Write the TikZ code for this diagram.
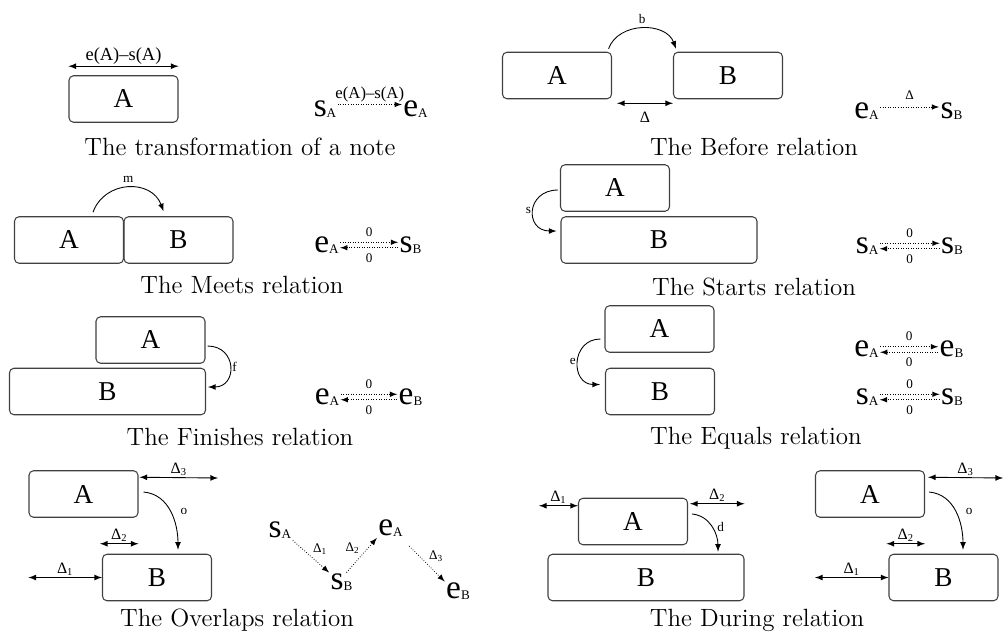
\documentclass[tikz,border=0pt]{standalone}
\usepackage{fontspec}
\usepackage{tikz}
\newfontfamily\tnr{Liberation Serif}

\newcommand{\evpoint}[2]{{\fontsize{19}{19}\selectfont #1}\raisebox{-0.7pt}{\fontsize{7.5}{8}\selectfont #2}}

\tikzset{
    ev/.style={draw=black!75, line width=0.6pt, rounded corners=0.9mm, minimum width=21.8mm,
        minimum height=9.3mm, inner sep=0pt, font=\tnr\fontsize{15.5}{16}\selectfont},
    evlong/.style={ev, minimum width=39.2mm},
    tpoint/.style={inner sep=0pt, outer sep=0.3mm, font=\tnr},
    rel/.style={-latex, line width=0.5pt},
    dur/.style={latex-latex, line width=0.5pt},
    lagarrow/.style={-latex, densely dotted, line width=0.45pt},
    lbl/.style={font=\tnr\fontsize{7.5}{8}\selectfont, inner sep=1pt},
    dlbl/.style={lbl, font=\tnr\fontsize{9}{10}\selectfont},
    relname/.style={font=\fontsize{14.2}{17}\selectfont}
}

\begin{document}
\begin{tikzpicture}[x=0.2mm, y=-0.2mm]
    \useasboundingbox (0,0) rectangle (1005,640);

    % The transformation of a note
    \node[ev] (tA) at (123.5,99) {A};
    \draw[dur] ([yshift=1.8mm]tA.north west) -- node[lbl, above, font=\tnr\fontsize{10.5}{11}\selectfont] {e(A)–s(A)} ([yshift=1.8mm]tA.north east);
    \node[tpoint] (tSa) at (325,109) {\evpoint{s}{A}};
    \node[tpoint] (tEa) at (415.5,109) {\evpoint{e}{A}};
    \draw[lagarrow] ([yshift=0.9mm]tSa.east) -- node[lbl, above, font=\tnr\fontsize{9.5}{10}\selectfont] {e(A)–s(A)} ([yshift=0.9mm]tEa.west);
    \node[relname] (tCap) at (240,147) {The transformation of a note};

    % The Before relation
    \node[ev] (bA) at (557,75.5) {A};
    \node[ev] (bB) at (728,75.5) {B};
    \draw[rel] ([xshift=-0.7mm,yshift=0.6mm]bA.north east) to[out=70, in=110, looseness=1.1] node[lbl, above=1.5pt] {b} ([xshift=0.6mm,yshift=0.6mm]bB.north west);
    \draw[dur] ([xshift=1mm,yshift=-0.8mm]bA.south east) -- node[dlbl, below=3.5pt] {Δ} ([yshift=-0.8mm]bB.south west);
    \node[tpoint] (bEa) at (866.5,111) {\evpoint{e}{A}};
    \node[tpoint] (bSb) at (951.5,111) {\evpoint{s}{B}};
    \draw[lagarrow] ([yshift=0.8mm]bEa.east) -- node[lbl, above=3pt] {Δ} ([yshift=0.8mm]bSb.west);
    \node[relname] (bCap) at (754,147) {The Before relation};

    % The Meets relation
    \node[ev] (mA) at (69,240) {A};
    \node[ev] (mB) at (178.5,240) {B};
    \draw[rel] ([xshift=4.8mm,yshift=0.8mm]mA.north) to[out=70, in=110, looseness=1.25] node[lbl, above=1.5pt] {m} ([xshift=-3mm,yshift=1mm]mB.north);
    \node[tpoint] (mEa) at (326.5,245) {\evpoint{e}{A}};
    \node[tpoint] (mSb) at (410.5,245) {\evpoint{s}{B}};
    \draw[lagarrow] ([yshift=0.55mm]mEa.east) -- node[lbl, above=2pt] {0} ([yshift=0.55mm]mSb.west);
    \draw[lagarrow] ([yshift=-0.55mm]mSb.west) -- node[lbl, below=2pt] {0} ([yshift=-0.55mm]mEa.east);
    \node[relname] (mCap) at (242,285) {The Meets relation};

    % The Starts relation
    \node[ev] (sA) at (615,188) {A};
    \node[evlong] (sB) at (659,240) {B};
    \draw[rel] ([xshift=-0.4mm,yshift=-0.4mm]sA.west) to[out=180, in=180, looseness=2] node[lbl, left] {s} ([xshift=-0.8mm,yshift=1.8mm]sB.west);
    \node[tpoint] (sSa) at (867,246) {\evpoint{s}{A}};
    \node[tpoint] (sSb) at (952,246) {\evpoint{s}{B}};
    \draw[lagarrow] ([yshift=0.55mm]sSa.east) -- node[lbl, above=2pt] {0} ([yshift=0.55mm]sSb.west);
    \draw[lagarrow] ([yshift=-0.55mm]sSb.west) -- node[lbl, below=2pt] {0} ([yshift=-0.55mm]sSa.east);
    \node[relname] (sCap) at (754,287) {The Starts relation};

    % The Finishes relation
    \node[ev] (fA) at (150.5,340) {A};
    \node[evlong] (fB) at (107.5,391.5) {B};
    \draw[rel] ([xshift=0.4mm,yshift=-1.2mm]fA.east) to[out=0, in=0, looseness=1.85] node[lbl, right] {f} ([xshift=0.4mm,yshift=0.9mm]fB.east);
    \node[tpoint] (fEa) at (327,397) {\evpoint{e}{A}};
    \node[tpoint] (fEb) at (410.5,397) {\evpoint{e}{B}};
    \draw[lagarrow] ([yshift=0.55mm]fEa.east) -- node[lbl, above=2pt] {0} ([yshift=0.55mm]fEb.west);
    \draw[lagarrow] ([yshift=-0.55mm]fEb.west) -- node[lbl, below=2pt] {0} ([yshift=-0.55mm]fEa.east);
    \node[relname] (fCap) at (240,437) {The Finishes relation};

    % The Equals relation
    \node[ev] (qA) at (659.5,329) {A};
    \node[ev] (qB) at (660,391.5) {B};
    \draw[rel] ([xshift=-0.8mm,yshift=-2mm]qA.west) to[out=180, in=180, looseness=1.67] node[lbl, left] {e} ([xshift=-1mm,yshift=1.4mm]qB.west);
    \node[tpoint] (qEa) at (866.5,349.5) {\evpoint{e}{A}};
    \node[tpoint] (qEb) at (951.5,349.5) {\evpoint{e}{B}};
    \draw[lagarrow] ([yshift=0.55mm]qEa.east) -- node[lbl, above=2pt] {0} ([yshift=0.55mm]qEb.west);
    \draw[lagarrow] ([yshift=-0.55mm]qEb.west) -- node[lbl, below=2pt] {0} ([yshift=-0.55mm]qEa.east);
    \node[tpoint] (qSa) at (867,397) {\evpoint{s}{A}};
    \node[tpoint] (qSb) at (952,397) {\evpoint{s}{B}};
    \draw[lagarrow] ([yshift=0.55mm]qSa.east) -- node[lbl, above=2pt] {0} ([yshift=0.55mm]qSb.west);
    \draw[lagarrow] ([yshift=-0.55mm]qSb.west) -- node[lbl, below=2pt] {0} ([yshift=-0.55mm]qSa.east);
    \node[relname] (qCap) at (756,438) {The Equals relation};

    % The Overlaps relation
    \node[ev] (oA) at (83.5,494) {A};
    \node[ev] (oB) at (157,577.5) {B};
    \coordinate (oD3) at (218,478);
    \draw[dur] ([xshift=0.2mm,yshift=-1.4mm]oA.north east) -- node[dlbl, above] {Δ\textsubscript{3}} (oD3);
    \draw[rel] ([xshift=1mm,yshift=0.4mm]oA.east) to[out=-5, in=90] node[lbl, right=4.5pt] {o} ([xshift=4.2mm,yshift=0.8mm]oB.north);
    \coordinate (oD2) at ([xshift=-0.4mm,yshift=2mm]oB.north west);
    \draw[dur] (oD2) -- node[dlbl, above] {Δ\textsubscript{2}} (oD2 -| oA.east);
    \draw[dur] (oA.west |- oB.west) -- node[dlbl, above] {Δ\textsubscript{1}} (oB.west);
    \node[tpoint] (oSa) at (280,530.5) {\evpoint{s}{A}};
    \node[tpoint] (oSb) at (341.5,582.5) {\evpoint{s}{B}};
    \node[tpoint] (oEa) at (390.5,528) {\evpoint{e}{A}};
    \node[tpoint] (oEb) at (458,591.5) {\evpoint{e}{B}};
    \draw[lagarrow] (oSa.south east) -- node[lbl, above right] {Δ\textsubscript{1}} (oSb.north west);
    \draw[lagarrow] ([xshift=1mm]oSb.north) -- node[lbl, above left] {Δ\textsubscript{2}} (oEa.south west);
    \draw[lagarrow] ([xshift=1mm,yshift=-1.6mm]oEa.south east) -- node[lbl, above right] {Δ\textsubscript{3}} (oEb.north west);
    \node[relname] (oCap) at (237,620) {The Overlaps relation};

    % The During relation
    \node[ev] (dA) at (633,521.5) {A};
    \node[evlong] (dB) at (646,577.5) {B};
    \coordinate (dD1) at ([xshift=-7.8mm,yshift=-1.6mm]dA.north west);
    \draw[dur] (dD1) -- node[dlbl, above] {Δ\textsubscript{1}} (dD1 -| dA.west);
    \coordinate (dD2) at ([xshift=0.4mm,yshift=-1.2mm]dA.north east);
    \draw[dur] (dD2) -- node[dlbl, above] {Δ\textsubscript{2}} (dD2 -| dB.east);
    \draw[rel] ([xshift=0.8mm,yshift=1.5mm]dA.east) to[out=-5, in=90] node[lbl, right=2pt] {d} ([xshift=14.4mm,yshift=0.4mm]dB.north);

    \node[ev] (rA) at (870,494) {A};
    \node[ev] (rB) at (943.5,577.5) {B};
    \coordinate (rD3) at (1003,478);
    \draw[dur] ([xshift=0.6mm,yshift=-1.4mm]rA.north east) -- node[dlbl, above] {Δ\textsubscript{3}} (rD3);
    \draw[rel] ([xshift=0.8mm,yshift=0.4mm]rA.east) to[out=-5, in=90] node[lbl, right=4.5pt] {o} ([xshift=3.9mm,yshift=0.8mm]rB.north);
    \coordinate (rD2) at ([xshift=-0.4mm,yshift=2mm]rB.north west);
    \draw[dur] (rD2) -- node[dlbl, above] {Δ\textsubscript{2}} (rD2 -| rA.east);
    \draw[dur] (rA.west |- rB.west) -- node[dlbl, above] {Δ\textsubscript{1}} (rB.west);
    \node[relname] (dCap) at (757,620) {The During relation};
\end{tikzpicture}
\end{document}
